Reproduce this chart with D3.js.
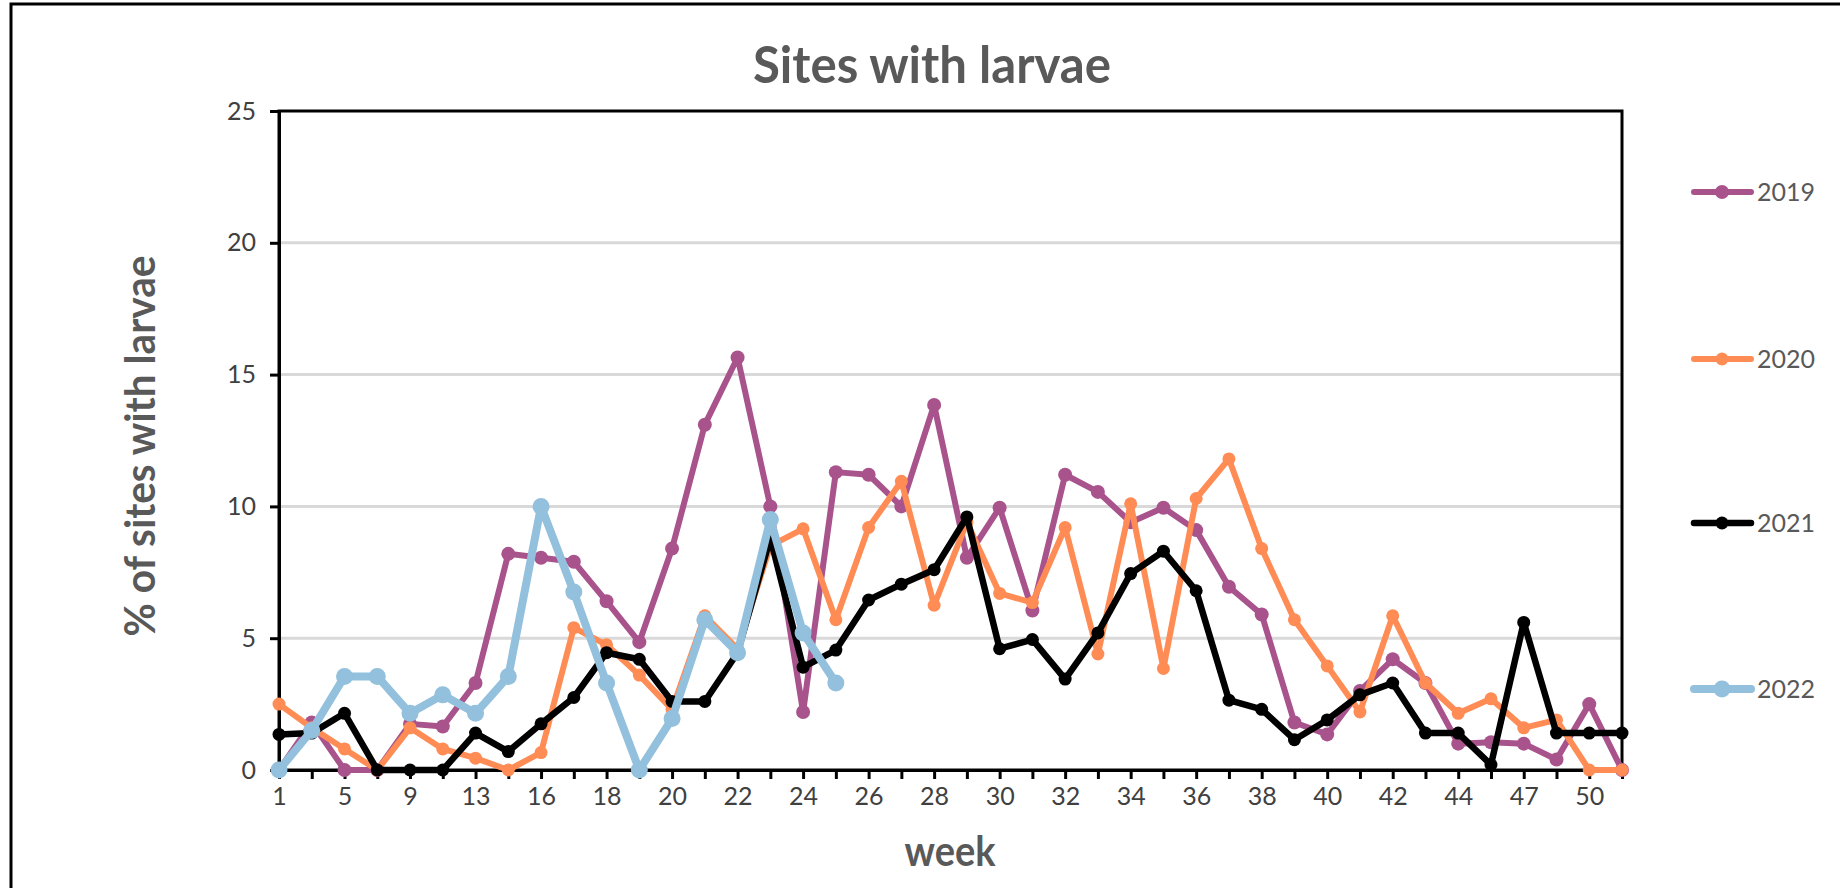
<!DOCTYPE html>
<html>
<head>
<script src="https://d3js.org/d3.v7.min.js"></script>
<title>Sites with larvae</title>
<style>
	body { margin: 0; background: white; }
	text { font-family: Lato, "Open Sans", sans-serif; }
	.tick text { font-size: 25px; fill: #404040; }
	.tick line { stroke: black; stroke-width: 3px; }
	.domain { stroke: black; stroke-width: 3px; }
</style>
</head>
<body>
<div id="chart"></div>

<script>
// weeks on the category axis (some weeks are missing in the source)
var weeks = [1, 3, 5, 7, 9, 11, 13, 15, 16, 17, 18, 19, 20, 21, 22, 23, 24, 25, 26, 27,
	28, 29, 30, 31, 32, 33, 34, 35, 36, 37, 38, 39, 40, 41, 42, 43, 44, 45, 47, 48, 50, 51];

var years = ["2019", "2020", "2021", "2022"];
var colors = ["#a9538c", "#ff8c55", "#000000", "#92c0dd"];

var y2019 = [0, 1.8, 0, 0, 1.75, 1.65, 3.3, 8.2, 8.05, 7.9, 6.4, 4.85, 8.4, 13.1, 15.65, 10.0, 2.2, 11.3,
	11.2, 10.0, 13.85, 8.05, 9.95, 6.05, 11.2, 10.55, 9.4, 9.95, 9.1, 6.95, 5.9, 1.8, 1.35, 3.0, 4.2,
	3.3, 1.0, 1.05, 1.0, 0.4, 2.5, 0];
var y2020 = [2.5, 1.6, 0.8, 0, 1.6, 0.8, 0.45, 0, 0.66, 5.4, 4.75, 3.6, 2.3, 5.85, 4.6, 8.5, 9.15, 5.7,
	9.2, 10.95, 6.25, 9.4, 6.7, 6.35, 9.2, 4.4, 10.1, 3.85, 10.3, 11.8, 8.4, 5.7, 3.95, 2.2, 5.85,
	3.3, 2.15, 2.7, 1.6, 1.9, 0, 0];
var y2021 = [1.35, 1.4, 2.15, 0, 0, 0, 1.4, 0.7, 1.75, 2.75, 4.45, 4.2, 2.6, 2.6, 4.45, 8.8, 3.9, 4.55,
	6.45, 7.05, 7.6, 9.6, 4.6, 4.95, 3.45, 5.2, 7.45, 8.3, 6.8, 2.65, 2.3, 1.15, 1.9, 2.85, 3.3,
	1.4, 1.4, 0.2, 5.6, 1.4, 1.4, 1.4];
var y2022 = [0, 1.5, 3.55, 3.55, 2.15, 2.85, 2.15, 3.55, 10.0, 6.75, 3.3, 0, 1.95, 5.7, 4.45, 9.5, 5.2, 3.3];

var yTicks = [0, 5, 10, 15, 20, 25];

var series = [y2019, y2020, y2021, y2022];
var lineWidth = [6, 6, 6.5, 8];
var dotSize = [7, 6.5, 6.5, 8.5];

var W = 1840, H = 888;
var plotLeft = 279, plotRight = 1622, plotTop = 111, plotBottom = 770;

var svg = d3.select("#chart").append("svg")
	.attr("width", W)
	.attr("height", H);

// outer chart frame
svg.append("rect")
	.attr("x", 11).attr("y", 4)
	.attr("width", W).attr("height", H + 20)
	.attr("fill", "white")
	.attr("stroke", "black")
	.attr("stroke-width", 3);

var x = d3.scalePoint()
	.domain(weeks)
	.range([plotLeft, plotRight]);

var y = d3.scaleLinear()
	.domain([0, 25])
	.range([plotBottom, plotTop]);

// gridlines
svg.append("g")
	.selectAll("line")
	.data(yTicks.slice(1, -1))
	.enter()
	.append("line")
	.attr("x1", plotLeft).attr("x2", plotRight)
	.attr("y1", function (d) { return y(d); })
	.attr("y2", function (d) { return y(d); })
	.attr("stroke", "#d9d9d9")
	.attr("stroke-width", 3);

// plot area border (top and right)
svg.append("rect")
	.attr("x", plotLeft).attr("y", plotTop)
	.attr("width", plotRight - plotLeft).attr("height", plotBottom - plotTop)
	.attr("fill", "none")
	.attr("stroke", "black")
	.attr("stroke-width", 3);

var yaxis = d3.axisLeft(y)
	.tickValues(yTicks)
	.tickSize(9)
	.tickPadding(14)
	.tickSizeOuter(0);

var xaxis = d3.axisBottom(x)
	.tickSize(9)
	.tickPadding(8)
	.tickSizeOuter(0)
	.tickFormat(function (d, i) { return i % 2 == 0 ? d : ""; });

svg.append("g")
	.attr("transform", "translate(" + plotLeft + ",0)")
	.call(yaxis);

svg.append("g")
	.attr("transform", "translate(0," + plotBottom + ")")
	.call(xaxis);

svg.selectAll(".tick text").attr("font-family", null).attr("font-size", null);

// series lines and markers
var line = d3.line()
	.defined(function (d) { return d != null; })
	.x(function (d, i) { return x(weeks[i]); })
	.y(function (d) { return y(d); });

series.forEach(function (vals, k) {
	svg.append("path")
		.datum(vals)
		.attr("fill", "none")
		.attr("stroke", colors[k])
		.attr("stroke-width", lineWidth[k])
		.attr("stroke-linejoin", "round")
		.attr("d", line);

	svg.append("g")
		.selectAll("circle")
		.data(vals)
		.enter()
		.append("circle")
		.attr("cx", function (d, i) { return x(weeks[i]); })
		.attr("cy", function (d) { return y(d); })
		.attr("r", dotSize[k])
		.attr("fill", colors[k]);
});

// legend
var legendY = [192, 359, 523, 689];
var lg = svg.append("g");
years.forEach(function (yr, k) {
	lg.append("line")
		.attr("x1", 1694).attr("x2", 1751)
		.attr("y1", legendY[k]).attr("y2", legendY[k])
		.attr("stroke", colors[k])
		.attr("stroke-width", lineWidth[k])
		.attr("stroke-linecap", "round");
	lg.append("circle")
		.attr("cx", 1722).attr("cy", legendY[k])
		.attr("r", dotSize[k])
		.attr("fill", colors[k]);
	lg.append("text")
		.attr("x", 1757).attr("y", legendY[k])
		.attr("dy", "0.35em")
		.attr("font-size", 25)
		.attr("fill", "#595959")
		.text(yr);
});

// titles
svg.append("text")
	.attr("x", 932).attr("y", 83)
	.attr("text-anchor", "middle")
	.attr("font-size", 52)
	.attr("font-weight", "bold")
	.attr("fill", "#595959")
	.attr("textLength", 358)
	.attr("lengthAdjust", "spacingAndGlyphs")
	.text("Sites with larvae");

svg.append("text")
	.attr("x", 950).attr("y", 866)
	.attr("text-anchor", "middle")
	.attr("font-size", 42)
	.attr("font-weight", "bold")
	.attr("fill", "#595959")
	.attr("textLength", 91)
	.attr("lengthAdjust", "spacingAndGlyphs")
	.text("week");

svg.append("text")
	.attr("transform", "translate(155,446) rotate(-90)")
	.attr("text-anchor", "middle")
	.attr("font-size", 42)
	.attr("font-weight", "bold")
	.attr("fill", "#595959")
	.attr("textLength", 381)
	.attr("lengthAdjust", "spacingAndGlyphs")
	.text("% of sites with larvae");
</script>
</body>
</html>
